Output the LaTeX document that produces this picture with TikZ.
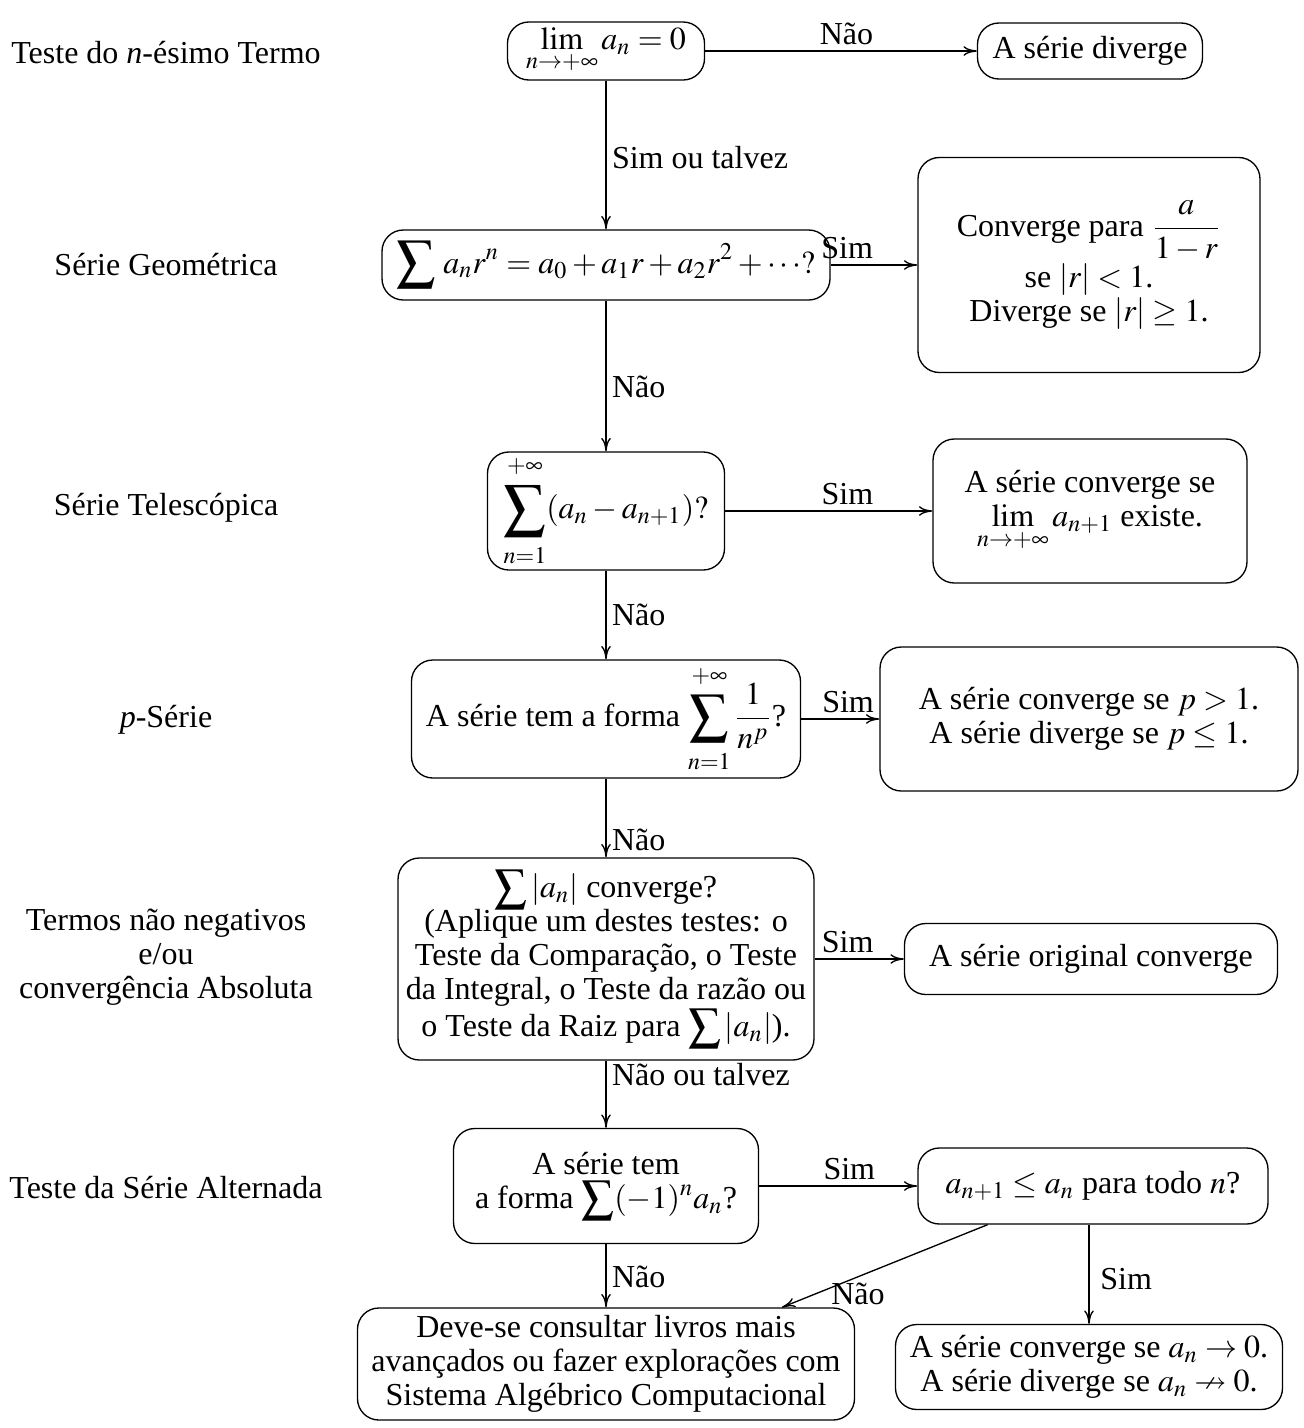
\documentclass[tikz,border=0pt]{standalone}
\usepackage{amssymb}
\usepackage{mathptmx}
\usepackage[no-math]{fontspec}
\setmainfont{Liberation Serif}
\usetikzlibrary{arrows.meta,calc}
\newcommand\myfz{\fontsize{12}{12.75}\selectfont}
\newcommand\ssum[1]{\mathop{\vcenter{\kern2.5pt\hbox{\scalebox{#1}{$\displaystyle\sum$}}\kern2pt}}\limits}
\begin{document}
\begin{tikzpicture}[x=0.375pt,y=-0.375pt,
  box/.style={draw, rounded corners=8pt, align=center, inner sep=0pt, line width=0.5pt, font=\myfz},
  arr/.style={line width=0.5pt, -{To[length=5pt,width=3.6pt]}},
  lbl/.style={font=\myfz, inner sep=2pt},
  side/.style={font=\myfz, align=center, inner sep=0pt}]
\useasboundingbox (0,0) rectangle (1304,1428);

% left column labels
\node[side] (s1) at (166,53) {Teste do \textit{n}-ésimo Termo};
\node[side] (s2) at (166,265) {Série Geométrica};
\node[side] (s3) at (166,508) {Série Telescópica};
\node[side] (s4) at (166,720) {\textit{p}-Série};
\node[side] (s5) at (166,957) {Termos não negativos\\e/ou\\convergência Absoluta};
\node[side] (s6) at (166,1188) {Teste da Série Alternada};

% main column
\node[box, minimum width=197*0.375pt, minimum height=58*0.375pt] (b1) at (606,51)
  {$\displaystyle\lim_{n\to+\infty} a_n = 0$};
\node[box, minimum width=225*0.375pt, minimum height=56*0.375pt] (div) at (1090,51)
  {A série diverge};

\node[box, minimum width=448*0.375pt, minimum height=70*0.375pt] (geo) at (606,265)
  {$\displaystyle\mathop{\vcenter{\hbox{\scalebox{1.2}{$\displaystyle\sum$}}}}\, a_n r^n = a_0 + a_1 r + a_2 r^2 + \cdots ?$};
\node[box, minimum width=342*0.375pt, minimum height=215*0.375pt] (rgeo) at (1089,265)
  {Converge para $\displaystyle\frac{a}{1-r}$\\ se $|r|<1$.\\ Diverge se $|r|\geq 1$.};

\node[box, minimum width=237*0.375pt, minimum height=118*0.375pt] (tel) at (606,511)
  {$\displaystyle\ssum{1.3}_{n=1}^{+\infty}(a_n-a_{n+1})?$};
\node[box, minimum width=314*0.375pt, minimum height=144*0.375pt] (rtel) at (1090,511)
  {A série converge se\\ $\displaystyle\lim_{n\to+\infty} a_{n+1}$ existe.};

\node[box, minimum width=389*0.375pt, minimum height=118*0.375pt] (ps) at (606,719)
  {A série tem a forma $\displaystyle\ssum{1.2}_{n=1}^{+\infty}\frac{1}{n^p}$?};
\node[box, minimum width=418*0.375pt, minimum height=144*0.375pt] (rps) at (1089,719)
  {A série converge se $p>1$.\\ A série diverge se $p\leq 1$.};

\node[box, minimum width=416*0.375pt, minimum height=202*0.375pt] (abs) at (606,959)
  {$\displaystyle\sum |a_n|$ converge?\\ (Aplique um destes testes: o\\ Teste da Comparação, o Teste\\ da Integral, o Teste da razão ou\\ o Teste da Raiz para $\displaystyle\sum |a_n|$).};
\node[box, minimum width=373*0.375pt, minimum height=71*0.375pt] (orig) at (1091,959)
  {A série original converge};

\node[box, minimum width=305*0.375pt, minimum height=115*0.375pt] (alt) at (606,1186)
  {A série tem\\ a forma $\displaystyle\sum (-1)^n a_n$?};
\node[box, minimum width=350*0.375pt, minimum height=76*0.375pt] (ralt) at (1093,1186)
  {$a_{n+1}\leq a_n$ para todo $n$?};

\node[box, minimum width=497*0.375pt, minimum height=112*0.375pt] (cons) at (606,1364)
  {Deve-se consultar livros mais\\ avançados ou fazer explorações com\\ Sistema Algébrico Computacional};
\node[box, minimum width=387*0.375pt, minimum height=85*0.375pt] (br) at (1089,1367)
  {A série converge se $a_n\to 0$.\\ A série diverge se $a_n\nrightarrow 0$.};

% connectors
\draw[arr] (b1) -- node[lbl, above, pos=0.52] {Não} (div);
\draw[arr] (b1) -- node[lbl, anchor=west, pos=0.52] {Sim ou talvez} (geo);
\draw[arr] (geo) -- node[lbl, above, pos=0.19] {Sim} (rgeo);
\draw[arr] (geo) -- node[lbl, anchor=west, pos=0.57] {Não} (tel);
\draw[arr] (tel) -- node[lbl, above, pos=0.59] {Sim} (rtel);
\draw[arr] (tel) -- node[lbl, anchor=west, pos=0.5] {Não} (ps);
\draw[arr] (ps) -- node[lbl, above, pos=0.6] {Sim} (rps);
\draw[arr] (ps) -- node[lbl, anchor=west, pos=0.78] {Não} (abs);
\draw[arr] (abs) -- node[lbl, above, pos=0.37] {Sim} (orig);
\draw[arr] (abs) -- node[lbl, anchor=west, pos=0.2] {Não ou talvez} (alt);
\draw[arr] (alt) -- node[lbl, above, pos=0.57] {Sim} (ralt);
\draw[arr] (alt) -- node[lbl, anchor=west, pos=0.52] {Não} (cons);
\draw[arr] ($(ralt.south west)!0.2!(ralt.south east)$) -- node[lbl, below, pos=0.63] {Não} ($(cons.north west)!0.853!(cons.north east)$);
\draw[arr] (ralt.south -| br) -- node[lbl, anchor=west, pos=0.55, xshift=2pt] {Sim} (br);
\end{tikzpicture}
\end{document}
